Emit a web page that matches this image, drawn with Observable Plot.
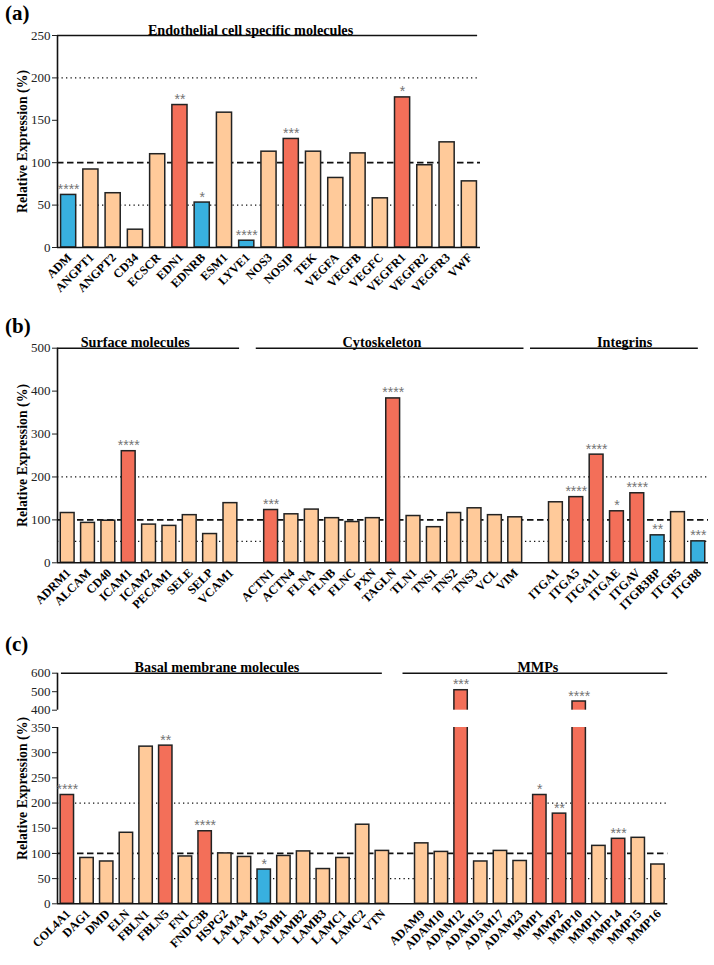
<!DOCTYPE html>
<html>
<head>
<meta charset="utf-8">
<script src="https://cdn.jsdelivr.net/npm/d3@7"></script>
<script src="https://cdn.jsdelivr.net/npm/@observablehq/plot@0.6"></script>
<style>
  html, body { margin: 0; padding: 0; background: #fff; }
  #root { position: relative; width: 714px; height: 965px; background: #fff; font-family: "Liberation Serif", "DejaVu Serif", serif; }
  .panel { position: absolute; left: 0; width: 714px; }
  .plabel { position: absolute; left: 5px; font: bold 21px "Liberation Serif", serif; line-height: 1; color: #000; z-index: 2; }
  svg { overflow: visible; }
  g[aria-label="x-axis tick label"] text { font-weight: bold; }
</style>
</head>
<body>
<div id="root"></div>
<script>
// ---------------- DATA ----------------
// (a) Endothelial cell specific molecules
const endoGenes = ["ADM","ANGPT1","ANGPT2","CD34","ECSCR","EDN1","EDNRB","ESM1","LYVE1","NOS3","NOSIP","TEK","VEGFA","VEGFB","VEGFC","VEGFR1","VEGFR2","VEGFR3","VWF"];
const endoValues = [62, 92, 64, 21, 110, 168, 53, 159, 8, 113, 128, 113, 82, 111, 58, 177, 97, 124, 78];
const endoSig = ["****","","","","","**","*","","****","","***","","","","","*","","",""];

// (b) Surface molecules / Cytoskeleton / Integrins
const surfaceGenes = ["ADRM1","ALCAM","CD40","ICAM1","ICAM2","PECAM1","SELE","SELP","VCAM1"];
const surfaceValues = [116, 93, 98, 260, 89, 86, 111, 67, 139];
const surfaceSig = ["","","","****","","","","",""];

const cytoGenes = ["ACTN1","ACTN4","FLNA","FLNB","FLNC","PXN","TAGLN","TLN1","TNS1","TNS2","TNS3","VCL","VIM"];
const cytoValues = [123, 113, 124, 104, 95, 104, 383, 109, 83, 116, 127, 111, 106];
const cytoSig = ["***","","","","","","****","","","","","",""];

const integrinGenes = ["ITGA1","ITGA5","ITGA11","ITGAE","ITGAV","ITGB3BP","ITGB5","ITGB8"];
const integrinValues = [141, 153, 252, 120, 162, 64, 118, 50];
const integrinSig = ["","****","****","*","****","**","","***"];

// (c) Basal membrane molecules / MMPs
const basalGenes = ["COL4A1","DAG1","DMD","ELN","FBLN1","FBLN5","FN1","FNDC3B","HSPG2","LAMA4","LAMA5","LAMB1","LAMB2","LAMB3","LAMC1","LAMC2","VTN"];
const basalValues = [216, 91, 84, 141, 312, 314, 94, 144, 100, 93, 68, 95, 104, 69, 91, 157, 105];
const basalSig = ["****","","","","","**","","****","","","*","","","","","",""];

const mmpGenes = ["ADAM9","ADAM10","ADAM12","ADAM15","ADAM17","ADAM23","MMP1","MMP2","MMP10","MMP11","MMP14","MMP15","MMP16"];
const mmpValues = [120, 103, 508, 84, 105, 85, 216, 179, 447, 115, 129, 131, 78];
const mmpSig = ["","","***","","","","*","**","****","","***","",""];

const groupTitlesA = ["Endothelial cell specific molecules"];
const groupTitlesB = ["Surface molecules", "Cytoskeleton", "Integrins"];
const groupTitlesC = ["Basal membrane molecules", "MMPs"];

const yTicksA = [0, 50, 100, 150, 200, 250];
const yTicksB = [0, 100, 200, 300, 400, 500];
const yTicksC = [0, 50, 100, 150, 200, 250, 300, 350, 400, 500, 600];

// ---------------- STYLE ----------------
const UP = "#F36F59", DOWN = "#38B0DF", NS = "#FFCA9A";
const SERIF = "Liberation Serif";
const W = 714;

function buildRows(groups) {
  const rows = [];
  let i = 0;
  groups.forEach(([genes, values, sigs], g) => {
    if (g > 0) i += 1; // empty slot between groups
    genes.forEach((gene, k) => {
      rows.push({ i, gene, value: values[k], sig: sigs[k] });
      i += 1;
    });
  });
  return { rows, n: i };
}

function colorOf(d) {
  if (!d.sig) return NS;
  return d.value > 100 ? UP : DOWN;
}

function makePanel(cfg) {
  const { rows, n } = cfg.data;
  const names = new Map(rows.map(d => [d.i, d.gene]));
  const yTop = cfg.yTop;
  const marks = [
    Plot.ruleY([200, 50], { x1: -0.5, x2: n - 0.5, stroke: "#111", strokeWidth: 1.3, strokeDasharray: "1.3,3.2" }),
    Plot.ruleY([100], { x1: -0.5, x2: n - 0.5, stroke: "#111", strokeWidth: 1.7, strokeDasharray: "6.5,3.5" }),
    Plot.rectY(rows, {
      x1: d => d.i - 0.34, x2: d => d.i + 0.34, y1: 0, y2: "value",
      fill: colorOf, stroke: "#222", strokeWidth: 1.5
    })
  ];
  if (cfg.breakAt) {
    marks.push(Plot.rect([0], { x1: -0.5, x2: n - 0.5, y1: cfg.breakAt[0], y2: cfg.breakAt[1], fill: "white" }));
    marks.push(Plot.ruleX([-0.5], { y1: 0, y2: cfg.breakAt[0], stroke: "#111", strokeWidth: 1.6 }));
    marks.push(Plot.ruleX([-0.5], { y1: cfg.breakAt[1], y2: yTop, stroke: "#111", strokeWidth: 1.6 }));
  } else {
    marks.push(Plot.ruleX([-0.5], { y1: 0, y2: yTop, stroke: "#111", strokeWidth: 1.6 }));
  }
  marks.push(
    Plot.ruleY([0], { x1: -0.5, x2: n - 0.5, stroke: "#111", strokeWidth: 1.6 }),
    Plot.text(rows.filter(d => d.sig), {
      x: "i", y: "value", text: "sig", lineAnchor: "bottom", dy: -1,
      fill: "#747474", fontSize: 14, fontFamily: "Liberation Sans"
    }),
    Plot.ruleY(cfg.groups, { x1: "x1", x2: "x2", y: yTop, stroke: "#111", strokeWidth: 1.5 }),
    Plot.text(cfg.groups, {
      x: "xc", y: yTop, text: "title", lineAnchor: "bottom", dy: -1,
      fontSize: 14.2, fontWeight: "bold", fontFamily: SERIF, fill: "#000"
    }),
    Plot.axisY({ ticks: cfg.yTicks, tickSize: 5, tickPadding: 2, fontSize: 13, fontFamily: SERIF, label: null, color: "#222" }),
    Plot.axisX({
      ticks: rows.map(d => d.i), tickFormat: i => names.get(i), tickRotate: -45,
      tickSize: 0, tickPadding: 8, dx: 1, fontSize: 12.2, fontWeight: "bold", fontFamily: SERIF, label: null, color: "#000"
    }),
    Plot.text(["Relative Expression (%)"], {
      frameAnchor: "left", textAnchor: "middle", rotate: -90, dx: -35,
      fontSize: 13.8, fontWeight: "bold", fontFamily: SERIF, fill: "#000"
    })
  );
  return Plot.plot({
    width: W, height: cfg.height,
    marginLeft: 57, marginRight: cfg.marginRight, marginTop: cfg.marginTop, marginBottom: cfg.marginBottom,
    x: { type: "linear", domain: [-0.5, n - 0.5] },
    y: cfg.y,
    color: { type: "identity" },
    style: { fontFamily: SERIF, background: "transparent", overflow: "visible" },
    marks
  });
}

const dataA = buildRows([[endoGenes, endoValues, endoSig]]);
const dataB = buildRows([[surfaceGenes, surfaceValues, surfaceSig], [cytoGenes, cytoValues, cytoSig], [integrinGenes, integrinValues, integrinSig]]);
const dataC = buildRows([[basalGenes, basalValues, basalSig], [mmpGenes, mmpValues, mmpSig]]);

const panels = [
  {
    label: "(a)", top: 0, labelTop: 3,
    cfg: {
      data: dataA, height: 305, marginTop: 35, marginBottom: 58, marginRight: 234,
      y: { domain: [0, 250] }, yTop: 250, yTicks: yTicksA,
      groups: [{ title: groupTitlesA[0], x1: -0.5, x2: 18.37, xc: 8.17 }]
    }
  },
  {
    label: "(b)", top: 305, labelTop: 11,
    cfg: {
      data: dataB, height: 320, marginTop: 42.7, marginBottom: 62.7, marginRight: 6,
      y: { domain: [0, 500] }, yTop: 500, yTicks: yTicksB,
      groups: [
        { title: groupTitlesB[0], x1: -0.5, x2: 8.45, xc: 3.32 },
        { title: groupTitlesB[1], x1: 9.27, x2: 22.43, xc: 15.45 },
        { title: groupTitlesB[2], x1: 22.75, x2: 31.0, xc: 27.38 }
      ]
    }
  },
  {
    label: "(c)", top: 625, labelTop: 9,
    cfg: {
      data: dataC, height: 340, marginTop: 47.7, marginBottom: 61.7, marginRight: 46.7,
      y: { type: "linear", domain: [0, 350, 400, 600], range: [278.3, 102, 84.7, 47.7] },
      yTop: 600, yTicks: yTicksC, breakAt: [350, 400],
      groups: [
        { title: groupTitlesC[0], x1: -0.3, x2: 16.0, xc: 7.6 },
        { title: groupTitlesC[1], x1: 17.05, x2: 30.5, xc: 23.9 }
      ]
    }
  }
];

const root = document.getElementById("root");
for (const p of panels) {
  const div = document.createElement("div");
  div.className = "panel";
  div.style.top = p.top + "px";
  div.style.height = p.cfg.height + "px";
  const lab = document.createElement("div");
  lab.className = "plabel";
  lab.style.top = p.labelTop + "px";
  lab.textContent = p.label;
  div.appendChild(lab);
  div.appendChild(makePanel(p.cfg));
  root.appendChild(div);
}
</script>
</body>
</html>
